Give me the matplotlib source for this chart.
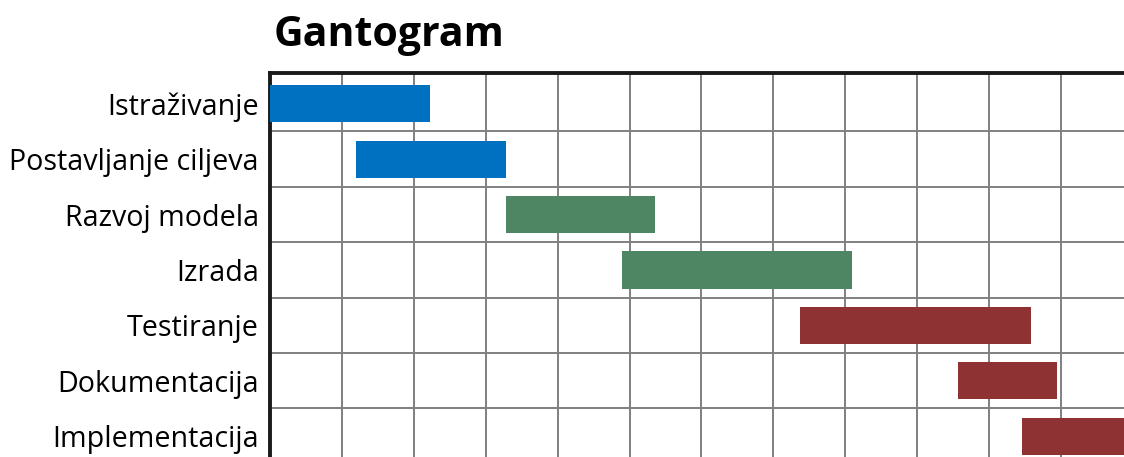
import matplotlib
matplotlib.use("Agg")
import matplotlib.pyplot as plt
import numpy as np

tasks = ["Istraživanje", "Postavljanje ciljeva", "Razvoj modela", "Izrada",
         "Testiranje", "Dokumentacija", "Implementacija"]
starts = [0.0, 1.2, 3.28, 4.9, 7.37, 9.57, 10.46]
ends = [2.23, 3.28, 5.35, 8.1, 10.59, 10.95, 12.0]
colors = ["#0070C0", "#0070C0", "#4E8562", "#4E8562", "#8E3234", "#8E3234", "#8E3234"]

plt.rcParams['font.family'] = ['Open Sans', 'DejaVu Sans']

fig = plt.figure(figsize=(11.24, 4.57), dpi=100)
W, H = 1124, 457
left_px, top_px = 270, 73.3
unit_x = 71.9
unit_y = 55.4
xmax = 13
ymin_top, ymax_bot = -0.55, 7.0
width_px = xmax * unit_x
height_px = (ymax_bot - ymin_top) * unit_y
ax = fig.add_axes([left_px / W, 1 - (top_px + height_px) / H, width_px / W, height_px / H])

y = np.arange(len(tasks))
durations = [e - s for s, e in zip(starts, ends)]
ax.barh(y, durations, left=starts, height=0.67, color=colors, zorder=3)

ax.set_yticks(y)
ax.set_yticklabels(tasks, fontsize=20.6)
ax.set_yticks(np.arange(len(tasks)) + 0.5, minor=True)
ax.set_xticks(np.arange(1, xmax))
ax.set_xticklabels([])
ax.set_xlim(0, xmax)
ax.set_ylim(ymax_bot, ymin_top)
ax.tick_params(axis='both', which='both', length=0)
ax.tick_params(axis='y', pad=8)
ax.grid(True, axis='x', which='major', color='#808080', linewidth=1.4, zorder=1)
ax.grid(True, axis='y', which='minor', color='#808080', linewidth=1.4, zorder=1)
ax.grid(False, axis='y', which='major')
for s in ['left', 'top']:
    ax.spines[s].set_linewidth(2.8)
    ax.spines[s].set_color('#1a1a1a')
for s in ['right', 'bottom']:
    ax.spines[s].set_visible(False)

fig.text(274 / W, 1 - 35 / H, "Gantogram", fontsize=29.5, fontweight='bold',
         va='center', ha='left', color='black')

fig.savefig("out.png", dpi=100)
